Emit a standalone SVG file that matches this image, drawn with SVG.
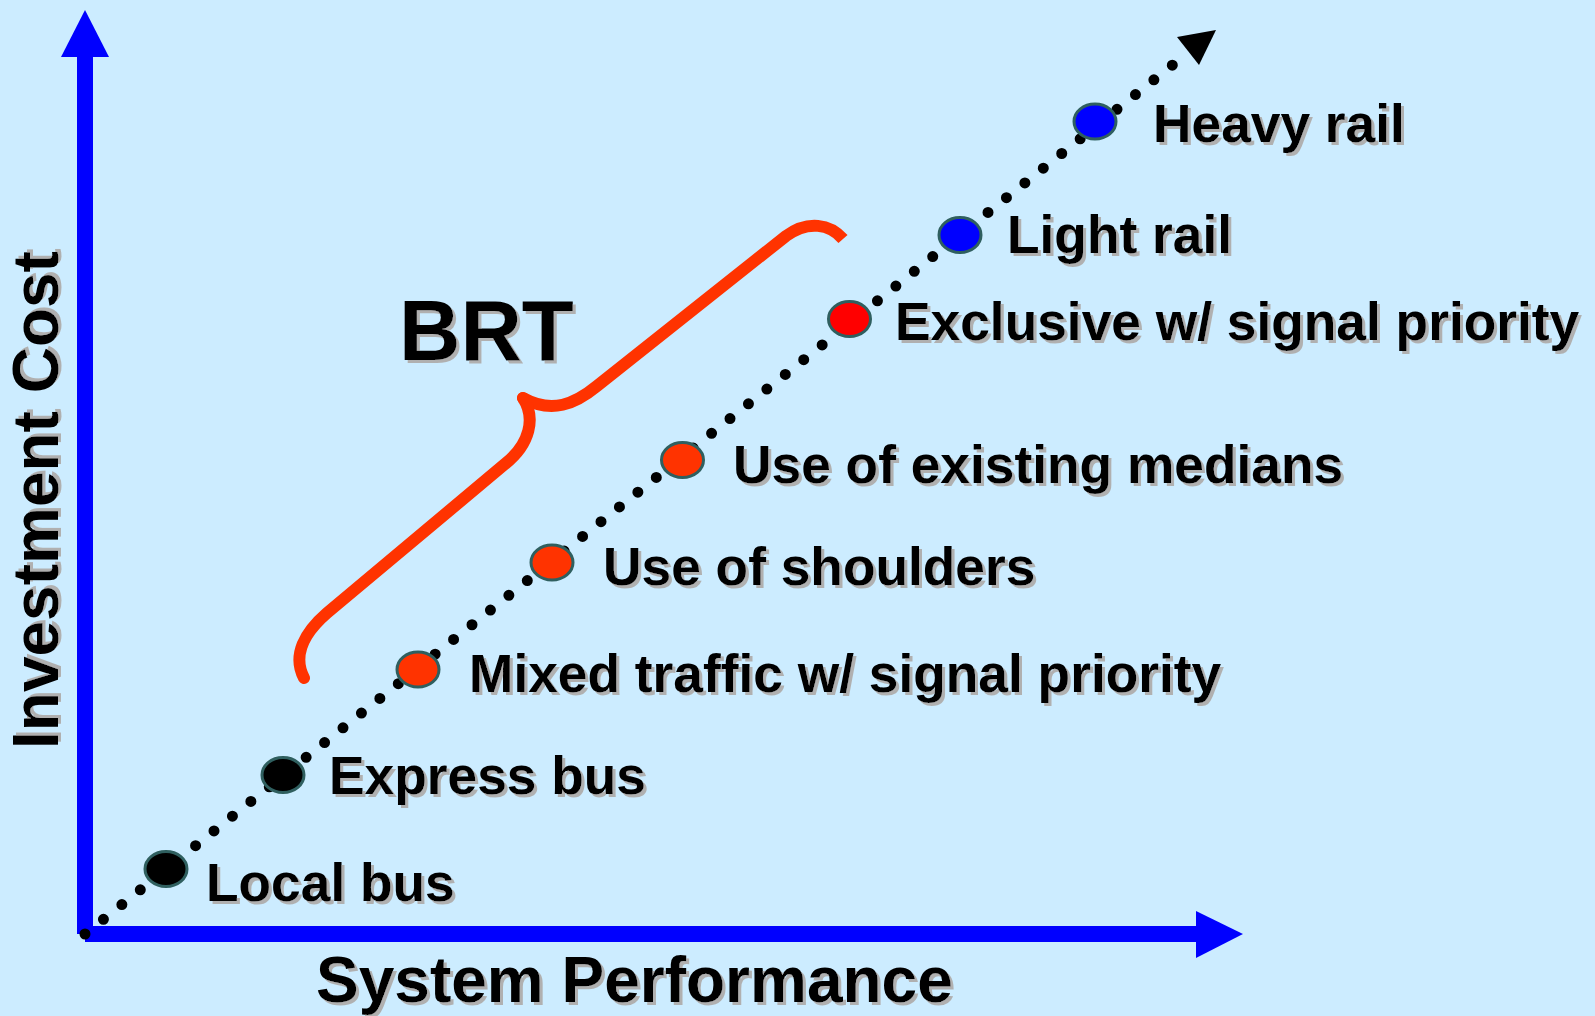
<svg xmlns="http://www.w3.org/2000/svg" width="1595" height="1016" viewBox="0 0 1595 1016">
  <style>
    .lbl { font-family: "Liberation Sans", Arial, sans-serif; font-weight: bold; font-size: 53.3px; fill: #000; filter: url(#shadow); }
    .big { font-size: 85px; }
    .axl { font-size: 64px; }
    .node { stroke: #2F5F5F; stroke-width: 3; }
    .axis { stroke: #0000FF; stroke-width: 16; fill: none; }
    .brace { stroke: #FF3300; stroke-width: 12; fill: none; }
  </style>
  <defs>
    <filter id="shadow" x="-5%" y="-20%" width="115%" height="150%">
      <feDropShadow dx="3" dy="3" stdDeviation="0.4" flood-color="#B0B0B0" flood-opacity="1"/>
    </filter>
  </defs>
  <rect x="0" y="0" width="1595" height="1016" fill="#CCECFF"/>

  <g id="connectors">
    <line class="axis" x1="85" y1="55" x2="85" y2="934"/>
    <polygon points="85,10 109,57 61,57" fill="#0000FF"/>
    <line class="axis" x1="85" y1="934" x2="1198" y2="934"/>
    <polygon points="1243,934 1196,911 1196,958" fill="#0000FF"/>
    <line x1="85" y1="934" x2="1190" y2="51" stroke="#000" stroke-width="11" stroke-linecap="round" stroke-dasharray="0 23.59"/>
    <polygon points="1216,30 1177,37 1199,65" fill="#000"/>
  </g>

  <g id="brace">
    <path class="brace" d="M 843 239 C 830 224 808 220 786 236 L 597 386 C 575 404 552 414 523 398"/>
    <path class="brace" stroke-linecap="round" d="M 523 398 C 536 418 530 444 505 464 L 327 613 C 305 632 292 655 304 678"/>
    <circle cx="523" cy="398" r="6" fill="#FF3300"/>
  </g>

  <g id="node-local-bus">
    <ellipse class="node" cx="166" cy="869" rx="21" ry="17.5" fill="#000"/>
    <text class="lbl" x="206" y="901">Local bus</text>
  </g>
  <g id="node-express-bus">
    <ellipse class="node" cx="283" cy="775" rx="21" ry="17.5" fill="#000"/>
    <text class="lbl" x="329" y="794">Express bus</text>
  </g>
  <g id="node-mixed-traffic">
    <ellipse class="node" cx="418" cy="669.5" rx="21" ry="17.5" fill="#FF3300"/>
    <text class="lbl" x="469" y="692">Mixed traffic w/ signal priority</text>
  </g>
  <g id="node-shoulders">
    <ellipse class="node" cx="552" cy="562.5" rx="21" ry="17.5" fill="#FF3300"/>
    <text class="lbl" x="603" y="585">Use of shoulders</text>
  </g>
  <g id="node-medians">
    <ellipse class="node" cx="682.5" cy="460" rx="21" ry="17.5" fill="#FF3300"/>
    <text class="lbl" x="733" y="483">Use of existing medians</text>
  </g>
  <g id="node-exclusive">
    <ellipse class="node" cx="849.5" cy="319" rx="21" ry="17.5" fill="#FF0000"/>
    <text class="lbl" x="895" y="340">Exclusive w/ signal priority</text>
  </g>
  <g id="node-light-rail">
    <ellipse class="node" cx="960" cy="235" rx="21" ry="17.5" fill="#0000FF"/>
    <text class="lbl" x="1007" y="253">Light rail</text>
  </g>
  <g id="node-heavy-rail">
    <ellipse class="node" cx="1095" cy="121.5" rx="21" ry="17.5" fill="#0000FF"/>
    <text class="lbl" x="1153" y="142">Heavy rail</text>
  </g>

  <g id="labels">
    <text class="lbl big" x="399" y="360">BRT</text>
    <text class="lbl axl" transform="translate(58,749) rotate(-90)" x="0" y="0">Investment Cost</text>
    <text class="lbl axl" x="316" y="1002">System Performance</text>
  </g>
</svg>
